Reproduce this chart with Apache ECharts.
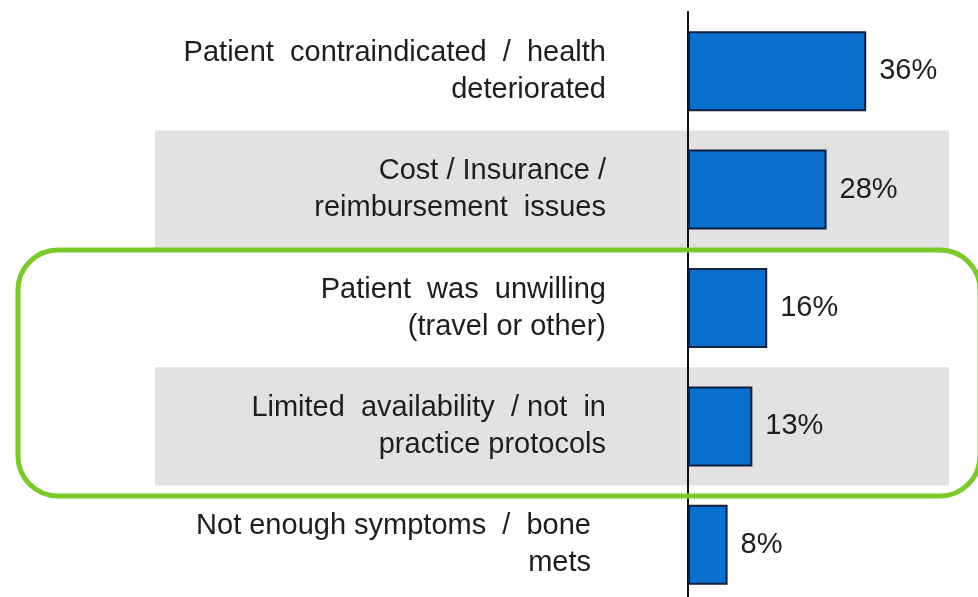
<!DOCTYPE html>
<html>
<head>
<meta charset="utf-8">
<script src="https://cdn.jsdelivr.net/npm/echarts@6/dist/echarts.min.js"></script>
<style>
    html, body { margin: 0; padding: 0; background: #fff; }
    #chart { width: 978px; height: 597px; }
</style>
</head>
<body>
<div id="chart"></div>
<script>
// reasons, top to bottom
var reasons = [
    'Patient  contraindicated  /  health\ndeteriorated',
    'Cost / Insurance /\nreimbursement  issues',
    'Patient  was  unwilling\n(travel or other)',
    'Limited  availability  / not  in\npractice protocols',
    'Not enough symptoms  /  bone\nmets'
];
var shares = [36, 28, 16, 13, 8];

var chart = echarts.init(document.getElementById('chart'));

var labelFont = {
    fontFamily: 'Liberation Sans, Arial, sans-serif',
    fontSize: 29,
    color: '#1e1e1e'
};

var option = {
    animation: false,
    grid: [
        // only used for the grey bands behind rows 2 and 4
        { left: 155, right: 29, top: 12, height: 592, outerBoundsMode: 'none' },
        { left: 688, right: 92, top: 12, height: 592, outerBoundsMode: 'none' }
    ],
    xAxis: [
        { gridIndex: 0, type: 'value', min: 0, max: 1, show: false },
        {
            gridIndex: 1, type: 'value', min: 0, max: 40,
            axisLine: { show: false }, axisTick: { show: false },
            axisLabel: { show: false }, splitLine: { show: false }
        }
    ],
    yAxis: [
        {
            gridIndex: 0, type: 'category', inverse: true, data: reasons,
            axisLine: { show: false }, axisTick: { show: false },
            axisLabel: { show: false }, splitLine: { show: false },
            splitArea: { show: true, areaStyle: { color: ['rgba(0,0,0,0)', '#e2e2e2'] } }
        },
        {
            gridIndex: 1, type: 'category', inverse: true,
            data: reasons.map(function (r, i) {
                return i === 4 ? { value: r, textStyle: { padding: [0, 15, 0, 0] } } : r;
            }),
            axisLine: { show: true, onZero: false, lineStyle: { color: '#111', width: 2 } },
            axisTick: { show: false },
            axisLabel: Object.assign({ margin: 82, align: 'right', lineHeight: 37 }, labelFont)
        }
    ],
    series: [
        {
            type: 'bar',
            xAxisIndex: 1,
            yAxisIndex: 1,
            data: shares,
            barWidth: 80,
            itemStyle: { color: '#0b6fce', borderColor: '#0c2140', borderWidth: 2 },
            label: Object.assign({
                show: true, position: 'right', distance: 13,
                formatter: '{c}%'
            }, labelFont)
        }
    ],
    graphic: [
        {
            type: 'rect',
            z: 100,
            shape: { x: 18, y: 250, width: 962, height: 246, r: 40 },
            style: { fill: 'none', stroke: '#7cc92c', lineWidth: 5 }
        }
    ]
};

chart.setOption(option);
</script>
</body>
</html>
